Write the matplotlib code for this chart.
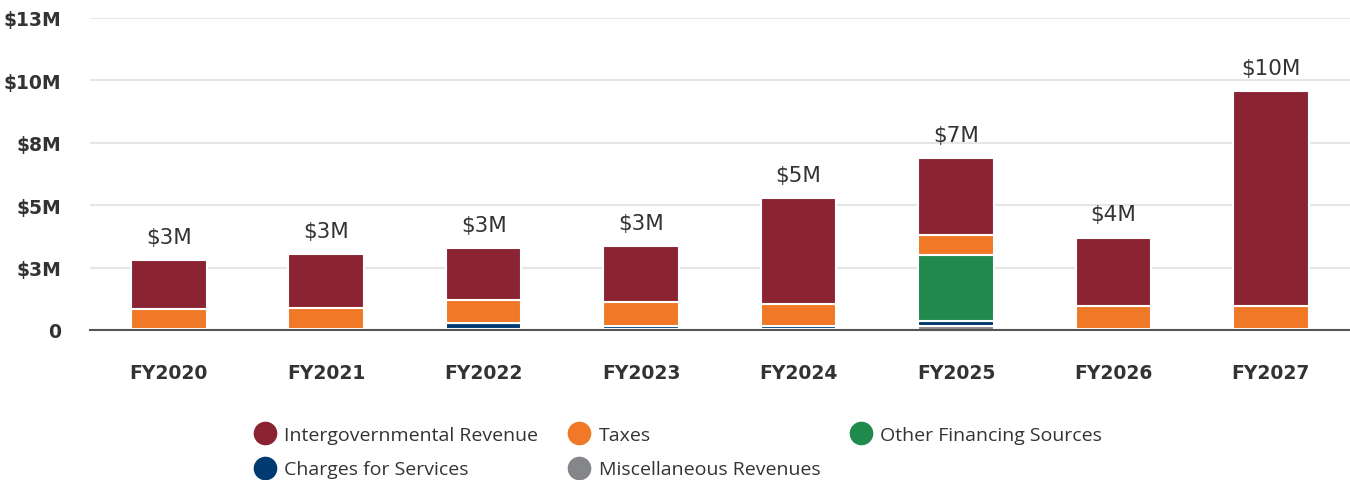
import numpy as np
import matplotlib.pyplot as plt
from matplotlib.lines import Line2D

# --- data (millions of dollars) ---
years = ["FY2020", "FY2021", "FY2022", "FY2023", "FY2024", "FY2025", "FY2026", "FY2027"]
misc = [0.05, 0.05, 0.02, 0.04, 0.04, 0.15, 0.05, 0.05]
charges = [0.0, 0.0, 0.27, 0.1, 0.12, 0.22, 0.0, 0.0]
other_fin = [0.0, 0.0, 0.0, 0.0, 0.0, 2.62, 0.0, 0.0]
taxes = [0.77, 0.84, 0.9, 0.98, 0.88, 0.83, 0.91, 0.91]
intergov = [1.98, 2.15, 2.08, 2.23, 4.24, 3.07, 2.74, 8.6]
total_labels = ["$3M", "$3M", "$3M", "$3M", "$5M", "$7M", "$4M", "$10M"]
y_ticks = [0, 2.5, 5, 7.5, 10, 12.5]
y_tick_labels = ["0", "$3M", "$5M", "$8M", "$10M", "$13M"]

colors = {
    "Intergovernmental Revenue": "#8a2432",
    "Taxes": "#f07826",
    "Other Financing Sources": "#1f8a4c",
    "Charges for Services": "#003a70",
    "Miscellaneous Revenues": "#85868a",
}

fig = plt.figure(figsize=(13.5, 4.81), dpi=100)
ax = fig.add_axes([0.0667, 0.312, 0.933, 0.6485])

x = np.arange(len(years))
width = 0.48
stack = [
    ("Miscellaneous Revenues", misc),
    ("Charges for Services", charges),
    ("Other Financing Sources", other_fin),
    ("Taxes", taxes),
    ("Intergovernmental Revenue", intergov),
]
bottom = np.zeros(len(years))
for name, vals in stack:
    vals = np.array(vals)
    ax.bar(x, vals, width, bottom=bottom, color=colors[name],
           edgecolor="white", linewidth=1.5, zorder=3)
    bottom += vals

# total labels above bars
for xi, tot, lab in zip(x, bottom, total_labels):
    ax.annotate(lab, (xi, tot), xytext=(0, 9.5), textcoords="offset points",
                ha="center", va="bottom", fontsize=15.5, color="#333333",
                fontweight="medium")

ax.set_xlim(-0.5, len(years) - 0.5)
ax.set_ylim(0, 12.5)
ax.set_yticks(y_ticks)
ax.set_yticklabels(y_tick_labels)
ax.set_xticks(x)
ax.set_xticklabels(years)
ax.grid(axis="y", color="#e6e6e6", linewidth=1.5, zorder=0)
for side in ["top", "right", "left"]:
    ax.spines[side].set_visible(False)
ax.spines["bottom"].set_color("#555555")
ax.spines["bottom"].set_linewidth(1.5)
ax.spines["bottom"].set_zorder(4)
ax.tick_params(axis="y", length=0, pad=21, labelsize=13.5, labelcolor="#333333")
ax.tick_params(axis="x", length=0, pad=24, labelsize=13.5, labelcolor="#333333")
for lab in ax.get_xticklabels() + ax.get_yticklabels():
    lab.set_fontweight("bold")

# legend (column order: Intergov/Charges, Taxes/Misc, Other)
order = ["Intergovernmental Revenue", "Charges for Services", "Taxes",
         "Miscellaneous Revenues", "Other Financing Sources"]
handles = [Line2D([0], [0], marker="o", linestyle="", markersize=16,
                  markerfacecolor=colors[n], markeredgecolor=colors[n]) for n in order]
fig.legend(handles, order, loc="center", bbox_to_anchor=(0.502, 0.058), ncol=3,
           frameon=False, prop={"family": "Open Sans", "size": 14},
           labelcolor="#333333", handletextpad=0.4, columnspacing=1.5,
           labelspacing=0.85, handlelength=1.2)

fig.savefig("out.png", dpi=100, facecolor="white")
